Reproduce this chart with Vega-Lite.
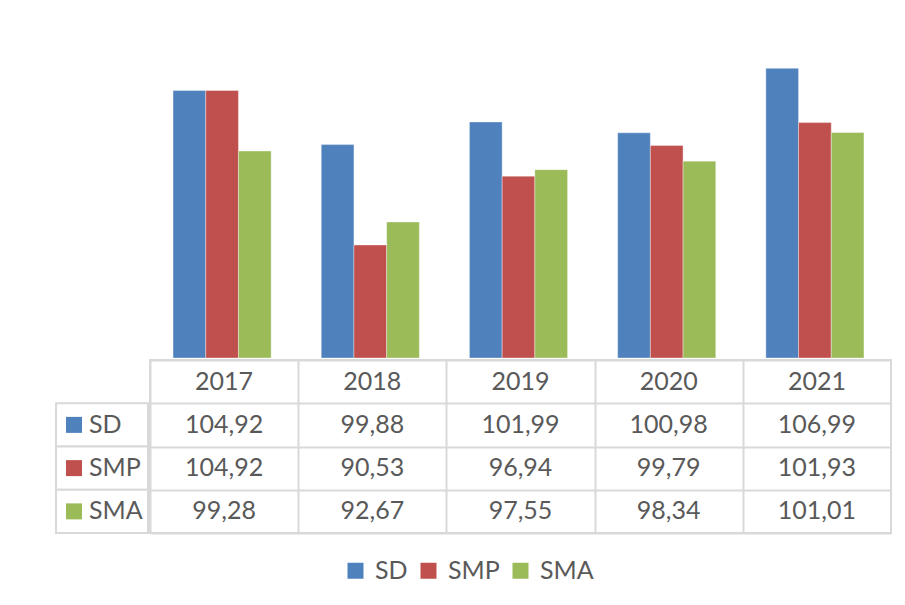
{
  "$schema": "https://vega.github.io/schema/vega-lite/v6.json",
  "padding": {"left": 55, "top": 36, "right": 0, "bottom": 0},
  "background": "white",
  "config": {
    "view": {"stroke": null},
    "font": "Lato",
    "locale": {"number": {"decimal": ",", "thousands": ".", "grouping": [3], "currency": ["", " €"]}}
  },
  "data": {
    "values": [
      {"year": "2017", "series": "SD", "value": 104.92},
      {"year": "2017", "series": "SMP", "value": 104.92},
      {"year": "2017", "series": "SMA", "value": 99.28},
      {"year": "2018", "series": "SD", "value": 99.88},
      {"year": "2018", "series": "SMP", "value": 90.53},
      {"year": "2018", "series": "SMA", "value": 92.67},
      {"year": "2019", "series": "SD", "value": 101.99},
      {"year": "2019", "series": "SMP", "value": 96.94},
      {"year": "2019", "series": "SMA", "value": 97.55},
      {"year": "2020", "series": "SD", "value": 100.98},
      {"year": "2020", "series": "SMP", "value": 99.79},
      {"year": "2020", "series": "SMA", "value": 98.34},
      {"year": "2021", "series": "SD", "value": 106.99},
      {"year": "2021", "series": "SMP", "value": 101.93},
      {"year": "2021", "series": "SMA", "value": 101.01}
    ]
  },
  "spacing": 0,
  "vconcat": [
    {
      "spacing": 0,
      "hconcat": [
        {
          "width": 92,
          "height": 322,
          "mark": {"type": "point", "opacity": 0},
          "encoding": {}
        },
        {
          "width": 741,
          "height": 322,
          "mark": {"type": "bar", "stroke": "white", "strokeWidth": 0.6, "strokeOpacity": 0.6},
          "encoding": {
            "x": {"field": "year", "type": "nominal", "axis": null,
                  "scale": {"paddingInner": 0.338, "paddingOuter": 0.169}},
            "xOffset": {"field": "series", "type": "nominal", "scale": {"domain": ["SD", "SMP", "SMA"], "paddingInner": 0, "paddingOuter": 0}},
            "y": {"field": "value", "type": "quantitative", "axis": null, "scale": {"domain": [80, 110], "zero": false, "nice": false}},
            "y2": {"datum": 80},
            "color": {
              "field": "series", "type": "nominal",
              "scale": {"domain": ["SD", "SMP", "SMA"], "range": ["#4F81BD", "#C0504D", "#9BBB59"]},
              "legend": {
                "orient": "none", "direction": "horizontal", "title": null,
                "legendX": 287, "legendY": 522, "padding": 0,
                "symbolType": "square", "symbolSize": 256, "symbolStrokeWidth": 0,
                "labelFont": "Lato", "labelFontSize": 25, "labelColor": "#595959",
                "labelOffset": 7, "columnPadding": 8
              }
            }
          }
        }
      ]
    },
    {
      "spacing": 0,
      "hconcat": [
        {
          "width": 92,
          "height": 173,
          "transform": [{"filter": "datum.year === '2017'"}],
          "layer": [
            {
              "mark": {"type": "rect", "fill": "white", "stroke": "#D9D9D9", "strokeWidth": 2},
              "encoding": {
                "y": {"field": "series", "type": "nominal", "axis": null,
                      "scale": {"domain": ["Year", "SD", "SMP", "SMA"], "paddingInner": 0, "paddingOuter": 0}}
              }
            },
            {
              "mark": {"type": "point", "shape": "square", "size": 256, "filled": true, "opacity": 1, "strokeWidth": 0},
              "encoding": {
                "x": {"datum": "key", "type": "nominal", "axis": null, "scale": {"type": "point", "domain": ["key", "label"], "range": [18, 33], "padding": 0}},
                "y": {"field": "series", "type": "nominal"},
                "color": {"field": "series", "type": "nominal"}
              }
            },
            {
              "mark": {"type": "text", "align": "left", "baseline": "middle", "font": "Lato", "fontSize": 25, "color": "#595959"},
              "encoding": {
                "x": {"datum": "label", "type": "nominal"},
                "y": {"field": "series", "type": "nominal"},
                "text": {"field": "series"}
              }
            }
          ]
        },
        {
          "width": 741,
          "height": 173,
          "view": {"stroke": "#D9D9D9", "strokeWidth": 2},
          "encoding": {
            "x": {"field": "year", "type": "nominal",
                  "scale": {"paddingInner": 0, "paddingOuter": 0},
                  "axis": {"grid": true, "tickBand": "extent", "gridColor": "#D9D9D9", "gridWidth": 2, "labels": false, "ticks": false, "domain": false, "title": null}}
          },
          "layer": [
            {
              "mark": {"type": "text", "align": "center", "baseline": "middle", "font": "Lato", "fontSize": 25, "color": "#595959"},
              "encoding": {
                "y": {"field": "series", "type": "nominal",
                      "scale": {"domain": ["Year", "SD", "SMP", "SMA"], "paddingInner": 0, "paddingOuter": 0},
                      "axis": {"grid": true, "tickBand": "extent", "gridColor": "#D9D9D9", "gridWidth": 2, "labels": false, "ticks": false, "domain": false, "title": null}},
                "text": {"field": "value", "type": "quantitative", "format": ".2f"}
              }
            },
            {
              "transform": [{"filter": "datum.series === 'SD'"}],
              "mark": {"type": "text", "align": "center", "baseline": "middle", "font": "Lato", "fontSize": 25, "color": "#595959"},
              "encoding": {
                "y": {"datum": "Year", "type": "nominal"},
                "text": {"field": "year", "type": "nominal"}
              }
            }
          ]
        }
      ]
    }
  ]
}
